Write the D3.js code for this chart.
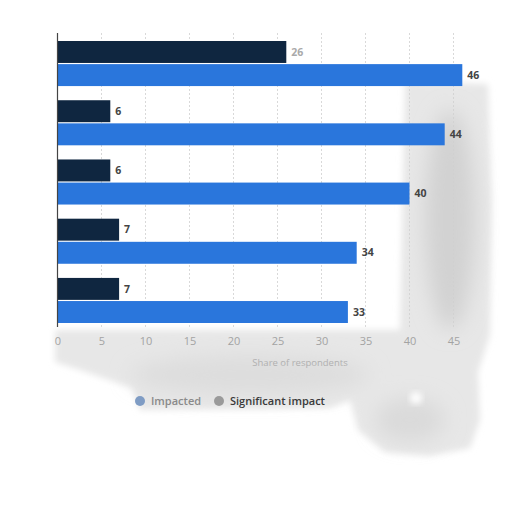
<!DOCTYPE html>
<html lang="en">
<head>
<meta charset="utf-8" />
<title></title>
<script src="https://cdn.jsdelivr.net/npm/d3@7/dist/d3.min.js"></script>
<style type="text/css">
  body { margin: 0; background: #fff; }
  svg { width: 512px; height: 512px; display: block; }
</style>
</head>
<body>
<script type="text/javascript">
  // category labels are cut off in the source, keep placeholders
  var categories = ["A", "B", "C", "D", "E"];
  var seriesNames = ["Impacted", "Significant impact"];
  var impacted = [46, 44, 40, 34, 33];
  var significant = [26, 6, 6, 7, 7];
  var ticks = [0, 5, 10, 15, 20, 25, 30, 35, 40, 45];

  var colors = { "Impacted": "#2a76dc", "Significant impact": "#0f2640" };

  var svg = d3.select("body").append("svg");

  var defs = svg.append("defs");
  defs.append("filter").attr("id", "soft")
      .attr("x", "-20%").attr("y", "-20%").attr("width", "140%").attr("height", "140%")
      .append("feGaussianBlur").attr("stdDeviation", 3);
  defs.append("filter").attr("id", "blur")
      .attr("x", "-50%").attr("y", "-50%").attr("width", "200%").attr("height", "200%")
      .append("feGaussianBlur").attr("stdDeviation", 10);

  // grey smudge in the background of the source picture
  var smudgeOutline = "M405,82 L488,84 L492,200 L490,335 L478,372 L480,420 L470,448 L430,456 L385,452 "
      + "L358,430 L350,400 L330,408 L140,410 L132,388 L80,370 L55,362 L55,330 L400,330 Z";
  svg.append("path").attr("d", smudgeOutline).attr("fill", "#e7e7e7").attr("filter", "url(#soft)");
  var blobs = [
      { cx: 450, cy: 220, rx: 25, ry: 110, fill: "#d2d2d2" },
      { cx: 250, cy: 375, rx: 120, ry: 20, fill: "#dddddd" },
      { cx: 410, cy: 420, rx: 35, ry: 22, fill: "#dadada" }
  ];
  svg.append("g").attr("filter", "url(#blur)")
      .selectAll("ellipse").data(blobs).enter().append("ellipse")
      .attr("cx", function (d) { return d.cx; })
      .attr("cy", function (d) { return d.cy; })
      .attr("rx", function (d) { return d.rx; })
      .attr("ry", function (d) { return d.ry; })
      .attr("fill", function (d) { return d.fill; });
  svg.append("circle").attr("cx", 416).attr("cy", 398).attr("r", 6)
      .attr("fill", "#fff").attr("filter", "url(#soft)");

  var plotLeft = 57.5, plotRight = 453.5, plotTop = 33, plotBottom = 327;

  var x = d3.scaleLinear().domain([0, 45]).range([plotLeft, plotRight]);
  var y = d3.scaleBand().domain(categories).range([28, 336]).paddingInner(0.2).paddingOuter(0.2);
  var ySub = d3.scaleBand().domain(["Significant impact", "Impacted"]).range([0, y.bandwidth()]).padding(0.05);

  // grid
  svg.selectAll("line.grid").data(ticks.slice(1)).enter().append("line")
      .attr("class", "grid")
      .attr("x1", function (d) { return x(d); }).attr("x2", function (d) { return x(d); })
      .attr("y1", plotTop).attr("y2", plotBottom)
      .attr("stroke", "#cfcfcf").attr("stroke-width", 0.8)
      .attr("stroke-dasharray", "2,2");

  var rows = categories.map(function (c, i) {
      return [
          { cat: c, name: "Significant impact", value: significant[i] },
          { cat: c, name: "Impacted", value: impacted[i] }
      ];
  });
  var bars = [].concat.apply([], rows);

  svg.selectAll("rect.bar").data(bars).enter().append("rect")
      .attr("class", "bar")
      .attr("x", x(0))
      .attr("y", function (d) { return y(d.cat) + ySub(d.name); })
      .attr("width", function (d) { return x(d.value) - x(0); })
      .attr("height", ySub.bandwidth())
      .attr("fill", function (d) { return colors[d.name]; });

  svg.selectAll("text.val").data(bars).enter().append("text")
      .attr("class", "val")
      .attr("x", function (d) { return x(d.value) + 5; })
      .attr("y", function (d) { return y(d.cat) + ySub(d.name) + ySub.bandwidth() / 2; })
      .attr("dy", "0.35em")
      .attr("font-family", "Open Sans, sans-serif")
      .attr("font-size", 10.5).attr("font-weight", "bold")
      .attr("fill", function (d, i) { return i === 0 ? "#aaa" : "#444"; })
      .text(function (d) { return d.value; });

  // left axis line
  svg.append("line").attr("x1", plotLeft).attr("x2", plotLeft).attr("y1", plotTop).attr("y2", plotBottom)
      .attr("stroke", "#444").attr("stroke-width", 1.2);

  var xAxis = svg.append("g").attr("transform", "translate(0," + (plotBottom + 10) + ")")
      .call(d3.axisBottom(x).tickValues(ticks).tickSize(0).tickPadding(0));
  xAxis.select(".domain").remove();
  xAxis.selectAll("text")
      .attr("font-family", "Open Sans, sans-serif").attr("font-size", 11)
      .attr("fill", "#a3a3a3").attr("dy", "0.75em");

  svg.append("text").attr("x", 300).attr("y", 366).attr("text-anchor", "middle")
      .attr("font-family", "Open Sans, sans-serif").attr("font-size", 9.5)
      .attr("fill", "#b0b0b0").text("Share of respondents");

  // legend
  var legendItems = [
      { name: "Impacted", cx: 140, dot: "#7f9cc4", text: "#8a8a8a" },
      { name: "Significant impact", cx: 219, dot: "#9a9a9a", text: "#3a3a3a" }
  ];
  var lg = svg.append("g").selectAll("g").data(legendItems).enter().append("g");
  lg.append("circle").attr("cx", function (d) { return d.cx; }).attr("cy", 401).attr("r", 5)
      .attr("fill", function (d) { return d.dot; });
  lg.append("text").attr("x", function (d) { return d.cx + 11; }).attr("y", 401).attr("dy", "0.35em")
      .attr("font-family", "Open Sans, sans-serif").attr("font-size", 11).attr("font-weight", 600)
      .attr("fill", function (d) { return d.text; })
      .text(function (d) { return d.name; });
</script>
</body>
</html>
